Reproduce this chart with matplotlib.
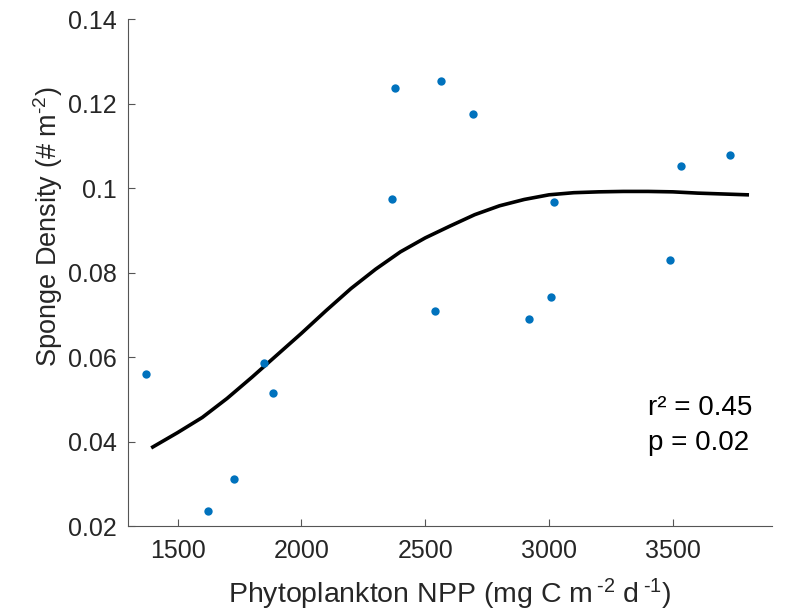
import matplotlib
matplotlib.use('Agg')
import matplotlib.pyplot as plt

plt.rcParams['font.family'] = ['Liberation Sans', 'DejaVu Sans']
plt.rcParams['mathtext.fontset'] = 'custom'
plt.rcParams['mathtext.rm'] = 'Liberation Sans'
plt.rcParams['mathtext.it'] = 'Liberation Sans:italic'

# observed sponge density vs NPP
npp = [1373, 1623, 1727, 1848, 1885, 2365, 2377, 2562, 2538, 2691,
       2921, 3006, 3018, 3490, 3534, 3731]
density = [0.0559, 0.0235, 0.0311, 0.0585, 0.0516, 0.0975, 0.1237, 0.1253,
           0.0708, 0.1175, 0.0689, 0.0743, 0.0967, 0.0830, 0.1053, 0.1078]

# fitted curve
fit_x = [1400, 1500, 1600, 1700, 1800, 1900, 2000, 2100, 2200, 2300, 2400,
         2500, 2600, 2700, 2800, 2900, 3000, 3100, 3200, 3300, 3400, 3500,
         3600, 3700, 3800]
fit_y = [0.0387, 0.0421, 0.0457, 0.0502, 0.0552, 0.0604, 0.0656, 0.0710,
         0.0762, 0.0808, 0.0849, 0.0882, 0.0910, 0.0937, 0.0958, 0.0973,
         0.0984, 0.0989, 0.0991, 0.0992, 0.0992, 0.0991, 0.0988, 0.0986,
         0.0984]

xticks = [1500, 2000, 2500, 3000, 3500]
yticks = [0.02, 0.04, 0.06, 0.08, 0.1, 0.12, 0.14]
ytick_labels = ['0.02', '0.04', '0.06', '0.08', '0.1', '0.12', '0.14']

fig = plt.figure(figsize=(7.97, 6.13), dpi=100)
ax = fig.add_axes([0.1606, 0.1419, 0.808, 0.827])

ax.plot(fit_x, fit_y, color='black', lw=2.6, zorder=2)
ax.plot(npp, density, 'o', color='#0072BD', markersize=6, zorder=3,
        markeredgewidth=0)

ax.set_xlim(1300, 3900)
ax.set_ylim(0.02, 0.14)
ax.set_xticks(xticks)
ax.set_yticks(yticks)
ax.set_yticklabels(ytick_labels)

for s in ['top', 'right']:
    ax.spines[s].set_visible(False)
for s in ['left', 'bottom']:
    ax.spines[s].set_color('#555555')
    ax.spines[s].set_linewidth(0.8)

ax.tick_params(direction='in', length=5, width=0.8, color='#555555',
               labelsize=18, labelcolor='#262626')
ax.tick_params(axis='x', pad=9)
ax.tick_params(axis='y', pad=8)

hy = '\u2010'
ax.set_xlabel('Phytoplankton NPP (mg C m$\\,^{' + hy + '2}$ d$\\,^{' + hy + '1}$)',
              fontsize=20.5, color='#262626', labelpad=10)
ax.set_ylabel('Sponge Density (# m$^{' + hy + '2}$)', fontsize=19.5,
              color='#262626')
ax.yaxis.set_label_coords(-0.098, 0.59)

ax.text(0.807, 0.233, 'r\u00b2 = 0.45', transform=ax.transAxes, fontsize=20,
        va='center', ha='left', color='black')
ax.text(0.807, 0.164, 'p = 0.02', transform=ax.transAxes, fontsize=20,
        va='center', ha='left', color='black')

fig.savefig('out.png', dpi=100)
